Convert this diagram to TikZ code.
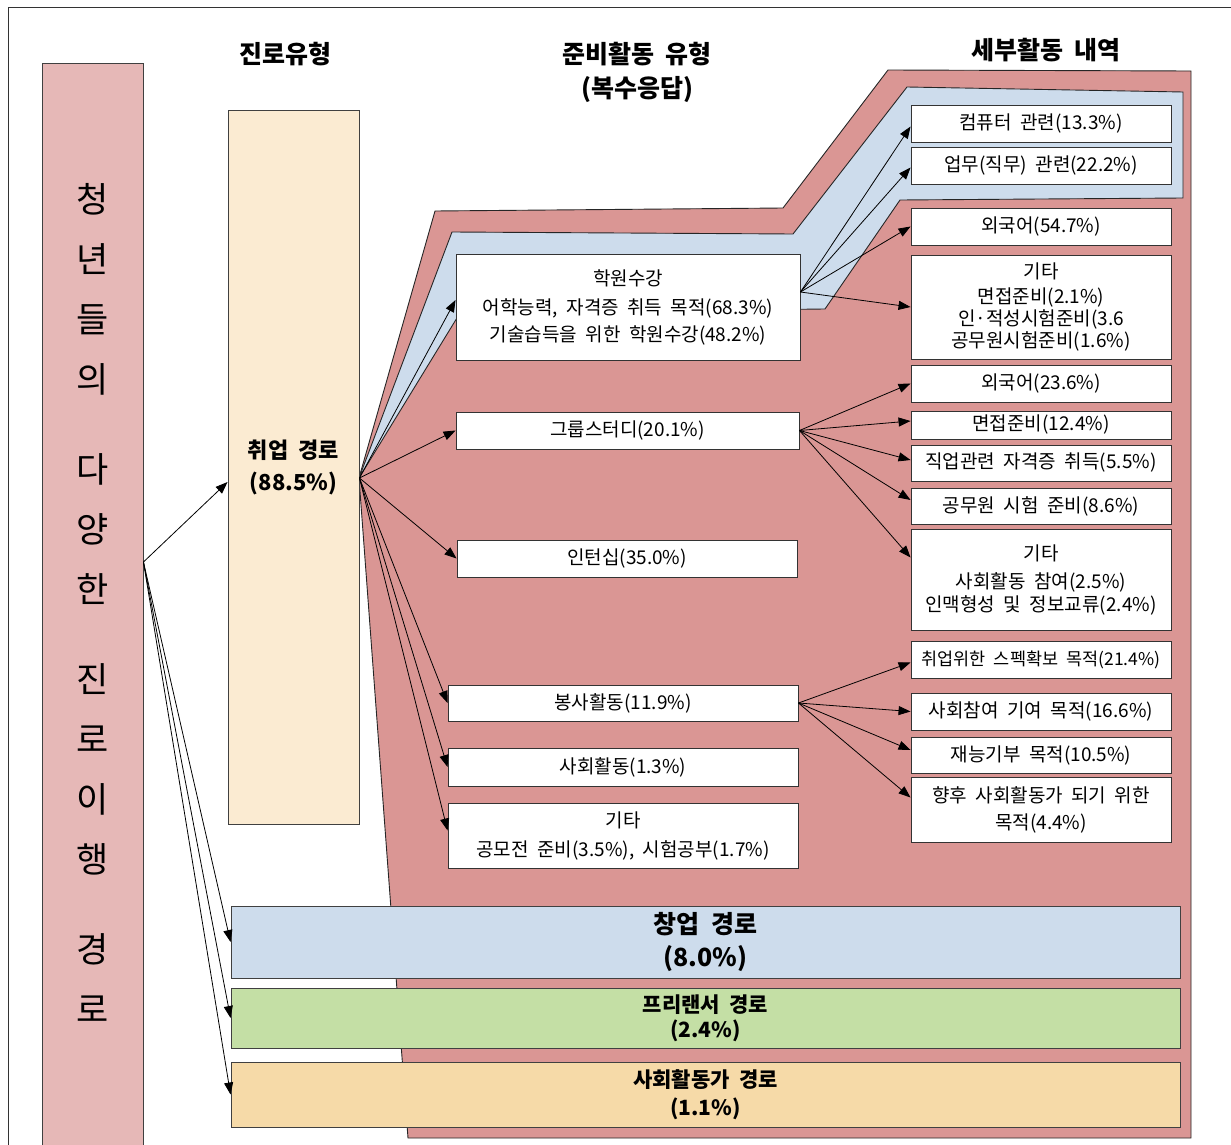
\documentclass[tikz,border=0pt]{standalone}
\usepackage{fontspec}
\setmainfont{Noto Sans CJK KR}[WordSpace=2.0]
\usetikzlibrary{arrows.meta,calc}
\definecolor{leftpink}{HTML}{E6B8B7}
\definecolor{beige}{HTML}{FBEBD2}
\definecolor{rose}{HTML}{DA9694}
\definecolor{lblue}{HTML}{CDDCEC}
\definecolor{lgreen}{HTML}{C4DFA5}
\definecolor{sand}{HTML}{F6DAA8}
\newcommand\fsbox{\fontsize{19}{23}\selectfont}
\begin{document}
\begin{tikzpicture}[x=1pt,y=-1pt,
  wbox/.style={draw=black!80, fill=white, line width=0.9pt, inner sep=1pt, align=center, font=\fsbox},
  band/.style={draw=black!75, line width=0.9pt, inner sep=0pt, align=center, minimum width=949pt},
  arr/.style={-{Triangle[length=12pt,width=9pt]}, line width=0.8pt, black},
  hdr/.style={font=\fontsize{25}{34}\selectfont\bfseries, align=center},
]
\useasboundingbox (0,0) rectangle (1231,1145);
\clip (0,0) rectangle (1231,1145);
% outer frame
\draw[line width=0.9pt, black!80] (8,7) rectangle (1260,1170);

% background regions
\draw[fill=rose, draw=black!85, line width=0.9pt]
  (359,478) -- (435,211) -- (783,208) -- (888,70) -- (1191,71) -- (1191,1138) -- (408,1138) -- cycle;
\draw[fill=lblue, draw=black!85, line width=0.9pt]
  (359,478) -- (452,232) -- (793,234) -- (907,87) -- (1183,92) -- (1183,198) -- (900,200) -- (825,309) -- (460,313) -- cycle;

% left box
\node[draw=black!75, fill=leftpink, line width=0.9pt, minimum width=101pt, minimum height=1084pt, inner sep=0pt] (L) at (92.5,605) {};
\node[font=\fontsize{35}{60}\selectfont, align=center, inner sep=0pt] (Ltext) at (92.5,602.5)
  {청\\년\\들\\의\\[30pt]다\\양\\한\\[30pt]진\\로\\이\\행\\[30pt]경\\로};

% headers
\node[hdr] (h1) at (285,54) {진로유형};
\node[hdr] (h2) at (637,72) {준비활동 유형\\(복수응답)};
\node[hdr] (h3) at (1046,50) {세부활동 내역};

% employment path
\node[draw=black!75, fill=beige, line width=0.9pt, minimum width=131pt, minimum height=714pt, inner sep=0pt,
  align=center, font=\fontsize{22}{32}\selectfont\bfseries] (J) at (293.5,467) {취업 경로\\(88.5\%)};

% middle boxes
\node[wbox, minimum width=344pt, minimum height=106pt] (HW) at (628,307)
  {학원수강\\[6pt]어학능력, 자격증 취득 목적(68.3\%)\\[4pt]기술습득을 위한 학원수강(48.2\%)};
\node[wbox, minimum width=343pt, minimum height=37pt] (GS) at (627.5,430.5) {그룹스터디(20.1\%)};
\node[wbox, minimum width=340pt, minimum height=37pt] (IT) at (627,558.5) {인턴십(35.0\%)};
\node[wbox, minimum width=350pt, minimum height=36pt] (BS) at (623,703) {봉사활동(11.9\%)};
\node[wbox, minimum width=350pt, minimum height=38pt] (SH) at (623,767) {사회활동(1.3\%)};
\node[wbox, minimum width=350pt, minimum height=65pt] (ET) at (623,835.5)
  {기타\\[6pt]공모전 준비(3.5\%), 시험공부(1.7\%)};

% right boxes
\node[wbox, minimum width=260pt, minimum height=37pt] (R1) at (1041,123.5) {컴퓨터 관련(13.3\%)};
\node[wbox, minimum width=260pt, minimum height=37pt] (R2) at (1041,165.5) {업무(직무) 관련(22.2\%)};
\node[wbox, minimum width=260pt, minimum height=37pt] (R3) at (1041,226.5) {외국어(54.7\%)};
\node[wbox, minimum width=260pt, minimum height=104pt] (R4) at (1041,307)
  {기타\\[2pt]면접준비(2.1\%)\\[-1pt]인·적성시험준비(3.6\\[-1pt]공무원시험준비(1.6\%)};
\node[wbox, minimum width=260pt, minimum height=37pt] (R5) at (1041,383.5) {외국어(23.6\%)};
\node[wbox, minimum width=260pt, minimum height=28pt] (R6) at (1041,425) {면접준비(12.4\%)};
\node[wbox, minimum width=260pt, minimum height=36pt] (R7) at (1041,463) {직업관련 자격증 취득(5.5\%)};
\node[wbox, minimum width=260pt, minimum height=36pt] (R8) at (1041,506) {공무원 시험 준비(8.6\%)};
\node[wbox, minimum width=260pt, minimum height=101pt] (R9) at (1041,579.5)
  {기타\\[5pt]사회활동 참여(2.5\%)\\인맥형성 및 정보교류(2.4\%)};
\node[wbox, minimum width=260pt, minimum height=37pt, font=\fontsize{17.5}{22}\selectfont] (R10) at (1041,659.5) {취업위한 스펙확보 목적(21.4\%)};
\node[wbox, minimum width=260pt, minimum height=37pt] (R11) at (1041,711.5) {사회참여 기여 목적(16.6\%)};
\node[wbox, minimum width=260pt, minimum height=36pt] (R12) at (1041,755) {재능기부 목적(10.5\%)};
\node[wbox, minimum width=260pt, minimum height=65pt] (R13) at (1041,809.5)
  {향후 사회활동가 되기 위한\\[4pt]목적(4.4\%)};

% bottom bands
\node[band, fill=lblue, minimum height=72pt, font=\fontsize{25}{33}\selectfont\bfseries] (B1) at (705.5,942) {창업 경로\\(8.0\%)};
\node[band, fill=lgreen, minimum height=60pt, font=\fontsize{21}{25}\selectfont\bfseries] (B2) at (705.5,1018) {프리랜서 경로\\(2.4\%)};
\node[band, fill=sand, minimum height=65pt, font=\fontsize{21}{28}\selectfont\bfseries] (B3) at (705.5,1094.5) {사회활동가 경로\\(1.1\%)};

% connectors
\coordinate (Lo) at ([yshift=43pt]L.east);
\coordinate (Jo) at ([yshift=-11pt]J.east);
\coordinate (HWo) at ([yshift=15pt]HW.east);
\draw[arr] (Lo) -- ([yshift=-15pt]J.west);
\draw[arr] (Lo) -- (B1.west);
\draw[arr] (Lo) -- (B2.west);
\draw[arr] (Lo) -- (B3.west);

\draw[arr] (Jo) -- ([yshift=7pt]HW.west);
\draw[arr] (Jo) -- (GS.west);
\draw[arr] (Jo) -- (IT.west);
\draw[arr] (Jo) -- (BS.west);
\draw[arr] (Jo) -- (SH.west);
\draw[arr] (Jo) -- ([yshift=5pt]ET.west);

\draw[arr] (HWo) -- ([yshift=-3pt]R1.west);
\draw[arr] (HWo) -- ([yshift=-2pt]R2.west);
\draw[arr] (HWo) -- (R3.west);
\draw[arr] (HWo) -- (R4.west);

\draw[arr] (GS.east) -- (R5.west);
\draw[arr] (GS.east) -- ([yshift=4pt]R6.west);
\draw[arr] (GS.east) -- ([yshift=3pt]R7.west);
\draw[arr] (GS.east) -- ([yshift=6pt]R8.west);
\draw[arr] (GS.east) -- ([yshift=22pt]R9.west);

\draw[arr] (BS.east) -- ([yshift=-3pt]R10.west);
\draw[arr] (BS.east) -- (R11.west);
\draw[arr] (BS.east) -- ([yshift=5pt]R12.west);
\draw[arr] (BS.east) -- ([yshift=12pt]R13.west);
\end{tikzpicture}
\end{document}
